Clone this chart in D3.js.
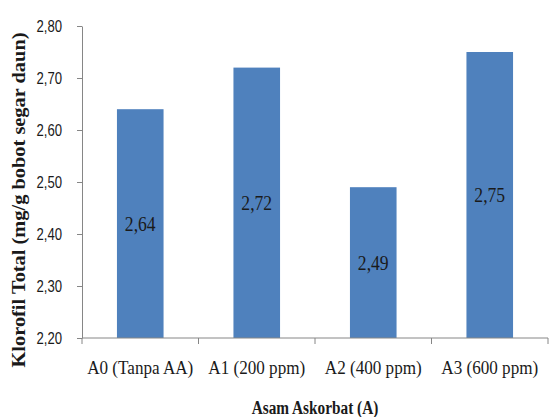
<!DOCTYPE html>
<html>
<head>
<meta charset="utf-8">
<script src="https://cdn.jsdelivr.net/npm/d3@7"></script>
<style>
  html, body { margin: 0; padding: 0; background: #fff; }
  svg { display: block; }
</style>
</head>
<body>
<svg id="chart" width="549" height="417"></svg>
<script>
// Total chlorophyll by ascorbic acid treatment
const categories = ["A0 (Tanpa AA)", "A1 (200 ppm)", "A2 (400 ppm)", "A3 (600 ppm)"];
const values = [2.64, 2.72, 2.49, 2.75];
const yTicks = [2.20, 2.30, 2.40, 2.50, 2.60, 2.70, 2.80];

const width = 549, height = 417;
const margin = { top: 26, right: 1, bottom: 79, left: 82 };

const svg = d3.select("#chart");
const fmt = v => v.toFixed(2).replace(".", ",");
const serif = "Liberation Serif, Times New Roman, serif";
const sans = "Liberation Sans, Arial, sans-serif";

// Narrow a text element horizontally by a factor
function condense(sel, k) {
  sel.each(function () {
    const len = this.getComputedTextLength();
    d3.select(this).attr("textLength", len * k).attr("lengthAdjust", "spacingAndGlyphs");
  });
}

const x = d3.scaleBand()
  .domain(categories)
  .range([margin.left, width - margin.right])
  .paddingInner(0.6)
  .paddingOuter(0.3);

const y = d3.scaleLinear()
  .domain([2.2, 2.8])
  .range([height - margin.bottom, margin.top]);

const axisColor = "#868686";

// Bars
svg.append("g")
  .selectAll("rect")
  .data(values)
  .join("rect")
  .attr("x", (d, i) => x(categories[i]))
  .attr("y", d => y(d))
  .attr("width", x.bandwidth())
  .attr("height", d => y(2.2) - y(d))
  .attr("fill", "#4f81bd");

// Value labels at the middle of each bar
svg.append("g")
  .selectAll("text")
  .data(values)
  .join("text")
  .attr("x", (d, i) => x(categories[i]) + x.bandwidth() / 2)
  .attr("y", d => (y(d) + y(2.2)) / 2)
  .attr("dy", "0.35em")
  .attr("text-anchor", "middle")
  .attr("font-family", serif)
  .attr("font-size", 20)
  .attr("fill", "#1a1a1a")
  .text(d => fmt(d))
  .call(condense, 0.88);

// Y axis
const yAxis = svg.append("g")
  .attr("transform", `translate(${margin.left},0)`)
  .call(d3.axisLeft(y).tickValues(yTicks).tickSize(5).tickSizeOuter(0).tickPadding(15).tickFormat(fmt));
yAxis.select(".domain").attr("stroke", axisColor);
yAxis.selectAll(".tick line").attr("stroke", axisColor);
yAxis.selectAll(".tick text")
  .attr("font-family", sans)
  .attr("font-size", 16)
  .attr("fill", "#1a1a1a")
  .call(condense, 0.82);

// X axis with ticks at category boundaries
const xAxisG = svg.append("g")
  .attr("transform", `translate(0,${y(2.2)})`);
xAxisG.append("line")
  .attr("x1", margin.left).attr("x2", width - margin.right)
  .attr("stroke", axisColor);
const boundaries = d3.range(categories.length + 1)
  .map(i => margin.left + i * (width - margin.right - margin.left) / categories.length);
xAxisG.selectAll(".bnd")
  .data(boundaries)
  .join("line")
  .attr("class", "bnd")
  .attr("x1", d => d).attr("x2", d => d)
  .attr("y1", 0).attr("y2", 6)
  .attr("stroke", axisColor);
xAxisG.selectAll(".cat")
  .data(categories)
  .join("text")
  .attr("class", "cat")
  .attr("x", d => x(d) + x.bandwidth() / 2)
  .attr("y", 36)
  .attr("text-anchor", "middle")
  .attr("font-family", serif)
  .attr("font-size", 18)
  .attr("fill", "#1a1a1a")
  .text(d => d)
  .call(condense, 0.95);

// Axis titles
svg.append("text")
  .attr("x", (margin.left + width - margin.right) / 2)
  .attr("y", 414)
  .attr("text-anchor", "middle")
  .attr("font-family", serif)
  .attr("font-weight", "bold")
  .attr("font-size", 18)
  .attr("fill", "#1a1a1a")
  .text("Asam Askorbat (A)")
  .call(condense, 0.85);

svg.append("text")
  .attr("transform", "translate(25,200) rotate(-90)")
  .attr("text-anchor", "middle")
  .attr("font-family", serif)
  .attr("font-weight", "bold")
  .attr("font-size", 18)
  .attr("fill", "#1a1a1a")
  .attr("textLength", 335)
  .attr("lengthAdjust", "spacingAndGlyphs")
  .text("Klorofil Total (mg/g bobot segar daun)");
</script>
</body>
</html>
